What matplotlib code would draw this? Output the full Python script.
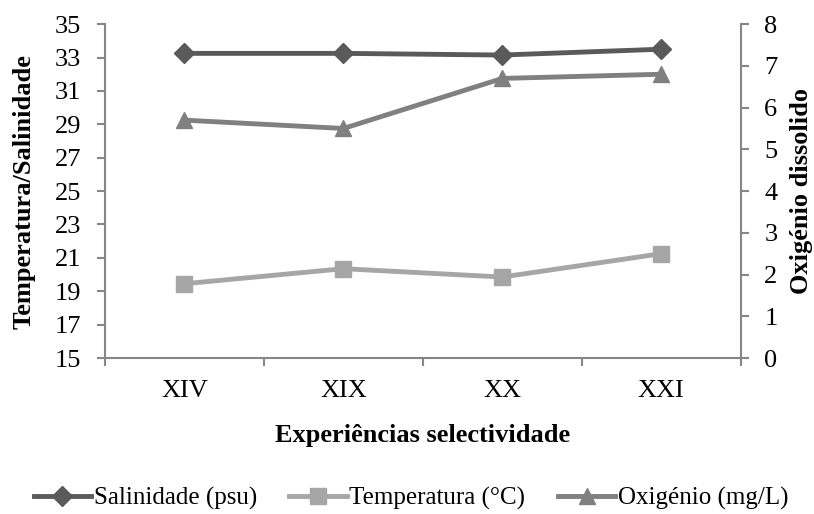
import matplotlib.pyplot as plt
import numpy as np

plt.rcParams['font.family'] = ['Liberation Serif', 'DejaVu Serif']

categorias = ['XIV', 'XIX', 'XX', 'XXI']
salinidade = [33.25, 33.25, 33.15, 33.5]
temperatura = [19.45, 20.35, 19.85, 21.25]
oxigenio = [5.7, 5.5, 6.7, 6.8]

cor_eixo = '#868686'
fs = 19

fig = plt.figure(figsize=(8.14, 5.14), dpi=100)
ax = fig.add_axes([0.129, 0.3035, 0.781, 0.6495])
ax2 = ax.twinx()

x = np.arange(len(categorias))

l1, = ax.plot(x, salinidade, color='#5a5a5a', lw=3.5, marker='D', ms=10,
              label='Salinidade (psu)')
l2, = ax.plot(x, temperatura, color='#a6a6a6', lw=3.5, marker='s', ms=11,
              label='Temperatura (°C)')
l3, = ax2.plot(x, oxigenio, color='#808080', lw=3.5, marker='^', ms=12,
               label='Oxigénio (mg/L)')

ax.set_xlim(-0.5, 3.5)
ax.set_ylim(15, 35)
ax.set_yticks(np.arange(15, 36, 2))
ax2.set_ylim(0, 8)
ax2.set_yticks(np.arange(0, 9, 1))

# ticks nas fronteiras das categorias, rótulos no centro
ax.set_xticks(np.arange(-0.5, 4, 1))
ax.set_xticklabels([])
ax.set_xticks(x, minor=True)
ax.set_xticklabels(categorias, minor=True)
ax.tick_params(axis='x', which='minor', length=0, pad=16, labelsize=fs)
ax.tick_params(axis='x', which='major', length=6, color=cor_eixo, width=1.5)

for a in (ax, ax2):
    for s in a.spines.values():
        s.set_visible(False)
    a.tick_params(axis='y', length=6, color=cor_eixo, width=1.5, labelsize=fs, pad=11)

ax.spines['left'].set_visible(True)
ax.spines['bottom'].set_visible(True)
ax2.spines['right'].set_visible(True)
for s in (ax.spines['left'], ax.spines['bottom'], ax2.spines['right']):
    s.set_color(cor_eixo)
    s.set_linewidth(1.5)

ax.set_ylabel('Temperatura/Salinidade', fontsize=fs, fontweight='bold')
ax.yaxis.set_label_coords(-0.11, 0.5)
ax2.set_ylabel('Oxigénio dissolido', fontsize=fs, fontweight='bold')
ax2.yaxis.set_label_coords(1.077, 0.5)
ax.set_xlabel('Experiências selectividade', fontsize=fs, fontweight='bold', labelpad=16)

fig.legend(handles=[l1, l2, l3], loc='center', bbox_to_anchor=(0.505, 0.03),
           ncol=3, frameon=False, fontsize=18, handlelength=2.3,
           handletextpad=0.1, columnspacing=1.3)

fig.savefig('out.png', dpi=100)
